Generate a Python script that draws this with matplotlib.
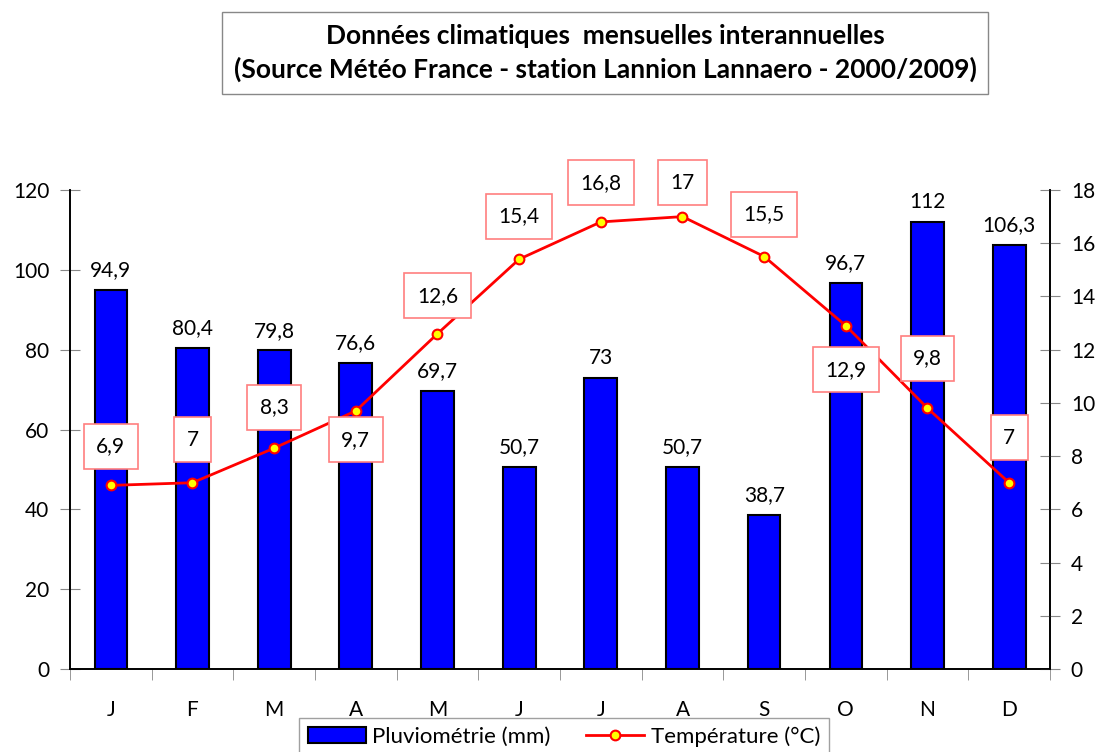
import numpy as np
import matplotlib.pyplot as plt

plt.rcParams['font.family'] = ['Lato', 'DejaVu Sans']

mois = ['J', 'F', 'M', 'A', 'M', 'J', 'J', 'A', 'S', 'O', 'N', 'D']
pluie = [94.9, 80.4, 79.8, 76.6, 69.7, 50.7, 73, 50.7, 38.7, 96.7, 112, 106.3]
temp = [6.9, 7, 8.3, 9.7, 12.6, 15.4, 16.8, 17, 15.5, 12.9, 9.8, 7]

# décalage vertical des étiquettes de température (pixels, + = vers le haut)
decal_temp = [39, 43, 41, -29, 38, 43, 39, 34, 42, -44, 50, 45]


def fmt(v):
    return ('%g' % v).replace('.', ',')


fig = plt.figure(figsize=(11.01, 7.52), dpi=100)
ax = fig.add_axes([70 / 1101, 1 - 669 / 752, 980 / 1101, 479 / 752])
ax2 = ax.twinx()

x = np.arange(len(mois))
barres = ax.bar(x, pluie, width=0.4, color='#0000ff', edgecolor='black', linewidth=1.5,
                label='Pluviométrie (mm)', zorder=2)
ligne, = ax2.plot(x, temp, color='red', linewidth=2, marker='o', markersize=7,
                  markerfacecolor='yellow', markeredgecolor='red', markeredgewidth=1.5,
                  label='Température (°C)', zorder=3)

ax.set_xlim(-0.5, len(mois) - 0.5)
ax.set_ylim(0, 120)
ax2.set_ylim(0, 18)
ax.set_yticks(np.arange(0, 121, 20))
ax2.set_yticks(np.arange(0, 19, 2))

ax.set_xticks(x)
ax.set_xticklabels(mois)
ax.set_xticks(np.arange(-0.5, len(mois)), minor=True)
ax.tick_params(axis='x', which='major', length=0, pad=22, labelsize=15)
ax.tick_params(axis='x', which='minor', length=8, color='#888888', direction='out')
ax.tick_params(axis='y', length=14, direction='inout', color='#888888', labelsize=15, pad=8)
ax2.tick_params(axis='y', length=14, direction='inout', color='#888888', labelsize=15, pad=8)

for a in (ax, ax2):
    a.spines['top'].set_visible(False)
    for s in a.spines.values():
        s.set_color('black')
        s.set_linewidth(1.2)

# étiquettes des barres
for xi, v in zip(x, pluie):
    ax.annotate(fmt(v), (xi, v), xytext=(0, 7), textcoords='offset points',
                ha='center', va='bottom', fontsize=15)

# étiquettes des températures
for xi, v, d in zip(x, temp, decal_temp):
    ax2.annotate(fmt(v), (xi, v), xytext=(0, d * 0.72), textcoords='offset points',
                 ha='center', va='center', fontsize=15, zorder=5,
                 bbox=dict(boxstyle='square,pad=0.6', facecolor='white',
                           edgecolor='#ff7f7f', linewidth=1.2))

fig.text(605 / 1101, 1 - 53 / 752,
         'Données climatiques  mensuelles interannuelles\n'
         '(Source Météo France - station Lannion Lannaero - 2000/2009)',
         ha='center', va='center', fontsize=19, fontweight='bold', linespacing=1.45,
         bbox=dict(boxstyle='square,pad=0.45', facecolor='white', edgecolor='#888888',
                   linewidth=1))

leg = fig.legend(handles=[barres, ligne], loc='lower center', ncol=2,
                 bbox_to_anchor=(564 / 1101, -0.02), fontsize=16, frameon=True,
                 fancybox=False, edgecolor='#888888', handlelength=2.6,
                 columnspacing=1.6, handletextpad=0.3, borderpad=0.4)
leg.get_frame().set_linewidth(1)

fig.savefig('out.png', dpi=100)
